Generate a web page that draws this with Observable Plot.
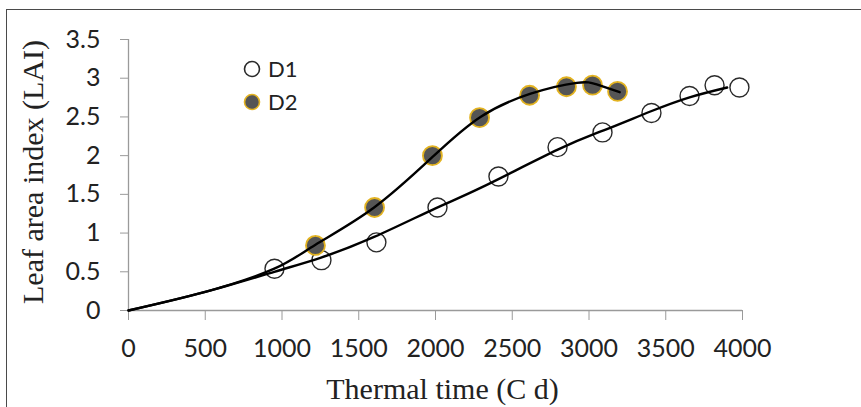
<!DOCTYPE html>
<html>
<head>
<meta charset="utf-8">
<script src="https://cdn.jsdelivr.net/npm/d3@7"></script>
<script src="https://cdn.jsdelivr.net/npm/@observablehq/plot@0.6"></script>
<style>
  html, body { margin: 0; padding: 0; background: #fff; }
  #wrap { position: relative; width: 861px; height: 407px; overflow: hidden; background: #fff; }
  #frame { position: absolute; left: 6px; top: 9px; width: 900px; height: 500px;
           border-top: 1.5px solid #4a4a4a; border-left: 1.5px solid #4a4a4a; }
  #chart { position: absolute; left: 0; top: 0; }
  #legend { position: absolute; left: 242px; top: 52px; font-family: Lato, "Open Sans", sans-serif; font-size: 22px; color: #222; }
  #legend .row { display: flex; align-items: center; height: 33px; }
  #legend svg { margin-right: 6px; }
</style>
</head>
<body>
<div id="wrap">
  <div id="frame"></div>
  <div id="chart"></div>
  <div id="legend"></div>
</div>
<script>
// Observed points
const d1X = [951, 1257, 1615, 2013, 2410, 2795, 3088, 3407, 3655, 3818, 3980];
const d1Y = [0.54, 0.65, 0.88, 1.33, 1.73, 2.11, 2.30, 2.55, 2.77, 2.91, 2.88];
const d2X = [1218, 1603, 1980, 2287, 2613, 2853, 3023, 3186];
const d2Y = [0.84, 1.33, 2.00, 2.49, 2.78, 2.89, 2.91, 2.83];

// Fitted curves
const fit1X = [0, 500, 950, 1250, 1600, 2000, 2300, 2800, 3100, 3400, 3650, 3900];
const fit1Y = [0, 0.24, 0.50, 0.68, 0.95, 1.32, 1.59, 2.08, 2.33, 2.57, 2.75, 2.88];
const fit2X = [0, 500, 950, 1218, 1600, 1990, 2293, 2620, 2920, 3050, 3200];
const fit2Y = [0, 0.24, 0.54, 0.85, 1.33, 2.00, 2.50, 2.80, 2.94, 2.92, 2.82];

const xTicks = [0, 500, 1000, 1500, 2000, 2500, 3000, 3500, 4000];
const yTicks = [0, 0.5, 1, 1.5, 2, 2.5, 3, 3.5];
const yTickLabels = ["0", "0.5", "1", "1.5", "2", "2.5", "3", "3.5"];
const seriesNames = ["D1", "D2"];
const xTitle = "Thermal time (C d)";
const yTitle = "Leaf area index (LAI)";

const d1 = d1X.map((x, i) => ({x, y: d1Y[i]}));
const d2 = d2X.map((x, i) => ({x, y: d2Y[i]}));
const f1 = fit1X.map((x, i) => ({x, y: fit1Y[i]}));
const f2 = fit2X.map((x, i) => ({x, y: fit2Y[i]}));

const tickFont = "Lato, 'Open Sans', sans-serif";
const serif = "'Liberation Serif', 'DejaVu Serif', serif";
const axisGray = "#9a9a9a";

const plot = Plot.plot({
  width: 861,
  height: 407,
  marginLeft: 128,
  marginRight: 119,
  marginTop: 39,
  marginBottom: 97,
  style: {background: "transparent", overflow: "visible"},
  x: {domain: [0, 4000]},
  y: {domain: [0, 3.5]},
  marks: [
    Plot.ruleX([0], {stroke: axisGray, strokeWidth: 1.3}),
    Plot.ruleY([0], {stroke: axisGray, strokeWidth: 1.3}),
    Plot.axisX({ticks: xTicks, tickSize: 10, tickPadding: 19, stroke: axisGray, fontSize: 25,
                fontFamily: tickFont, fill: "#222", label: null, tickFormat: d => String(d)}),
    Plot.axisY({ticks: yTicks, tickSize: 8, tickPadding: 20, stroke: axisGray, fontSize: 25,
                fontFamily: tickFont, fill: "#222", label: null,
                tickFormat: d => yTickLabels[yTicks.indexOf(d)]}),
    Plot.dot(d1, {x: "x", y: "y", r: 9.5, fill: "white", stroke: "#2a2a2a", strokeWidth: 1.4}),
    Plot.dot(d2, {x: "x", y: "y", r: 9.5, fill: "#555555", stroke: "#e3b321", strokeWidth: 1.8}),
    Plot.line(f1, {x: "x", y: "y", curve: "natural", stroke: "black", strokeWidth: 2.4}),
    Plot.line(f2, {x: "x", y: "y", curve: "natural", stroke: "black", strokeWidth: 2.4}),
    Plot.text([xTitle], {text: d => d, frameAnchor: "bottom", dx: 7, dy: 88, fontSize: 30,
               fontFamily: serif, fill: "#222", lineAnchor: "bottom"}),
    Plot.text([yTitle], {text: d => d, frameAnchor: "left", rotate: -90, dx: -95, dy: -3,
               textAnchor: "middle", fontSize: 30, fontFamily: serif, fill: "#222", lineAnchor: "middle"})
  ]
});
document.getElementById("chart").appendChild(plot);

// legend
const legend = document.getElementById("legend");
seriesNames.forEach((name, i) => {
  const row = document.createElement("div");
  row.className = "row";
  const fill = i === 0 ? "white" : "#555555";
  const stroke = i === 0 ? "#2a2a2a" : "#e3b321";
  row.innerHTML = `<svg width="20" height="20"><circle cx="10" cy="10" r="7.5" fill="${fill}" stroke="${stroke}" stroke-width="1.6"/></svg><span>${name}</span>`;
  legend.appendChild(row);
});
</script>
</body>
</html>
